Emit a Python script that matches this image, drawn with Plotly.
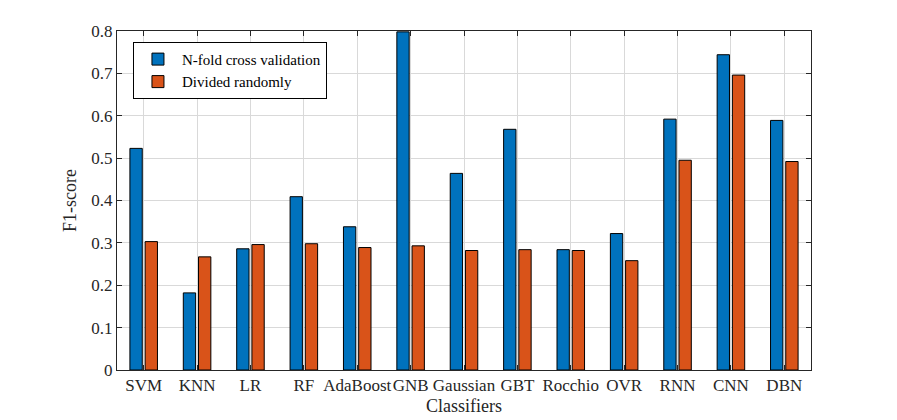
import plotly.graph_objects as go

classifiers = ["SVM", "KNN", "LR", "RF", "AdaBoost", "GNB", "Gaussian", "GBT",
               "Rocchio", "OVR", "RNN", "CNN", "DBN"]
nfold = [0.523, 0.182, 0.286, 0.409, 0.338, 0.798, 0.464, 0.568, 0.284, 0.322, 0.592, 0.744, 0.589]
random_div = [0.303, 0.267, 0.296, 0.298, 0.289, 0.293, 0.282, 0.284, 0.282, 0.258, 0.495, 0.696, 0.492]
y_ticks = [0, 0.1, 0.2, 0.3, 0.4, 0.5, 0.6, 0.7, 0.8]
y_ticklabels = ["0", "0.1", "0.2", "0.3", "0.4", "0.5", "0.6", "0.7", "0.8"]

FONT = "Liberation Serif"
AX = "#262626"

fig = go.Figure()
fig.add_trace(go.Bar(x=classifiers, y=nfold, name="N-fold cross validation",
                     marker=dict(color="#0072BD", line=dict(color="black", width=1))))
fig.add_trace(go.Bar(x=classifiers, y=random_div, name="Divided randomly",
                     marker=dict(color="#D95319", line=dict(color="black", width=1))))

fig.update_layout(
    width=889, height=412,
    margin=dict(l=109, r=86, t=23, b=50),
    paper_bgcolor="white", plot_bgcolor="white",
    barmode="group", bargap=0.43, bargroupgap=0.19,
    font=dict(family=FONT, color=AX, size=17),
    legend=dict(x=0.023, y=0.968, xanchor="left", yanchor="top",
                bgcolor="white", bordercolor="black", borderwidth=1,
                font=dict(family=FONT, size=15, color="black"),
                tracegroupgap=0, itemwidth=38),
    showlegend=True,
)
fig.update_xaxes(
    type="category", range=[-0.5, 12.5], tickangle=0, automargin=False,
    showline=True, linecolor=AX, linewidth=1, mirror="ticks",
    ticks="inside", ticklen=5, tickcolor=AX,
    showgrid=True, gridcolor="#d9d9d9", gridwidth=1,
    tickfont=dict(family=FONT, size=17, color=AX),
    title=dict(text="Classifiers", font=dict(family=FONT, size=18, color=AX), standoff=4),
)
fig.update_yaxes(
    range=[0, 0.8], tickvals=y_ticks, ticktext=y_ticklabels, automargin=False,
    showline=True, linecolor=AX, linewidth=1, mirror="ticks",
    ticks="inside", ticklen=5, tickcolor=AX,
    showgrid=True, gridcolor="#d9d9d9", gridwidth=1, zeroline=False,
    tickfont=dict(family=FONT, size=17, color=AX),
    title=dict(text="F1-score", font=dict(family=FONT, size=18, color=AX), standoff=10),
)

fig.write_html("out.html")
